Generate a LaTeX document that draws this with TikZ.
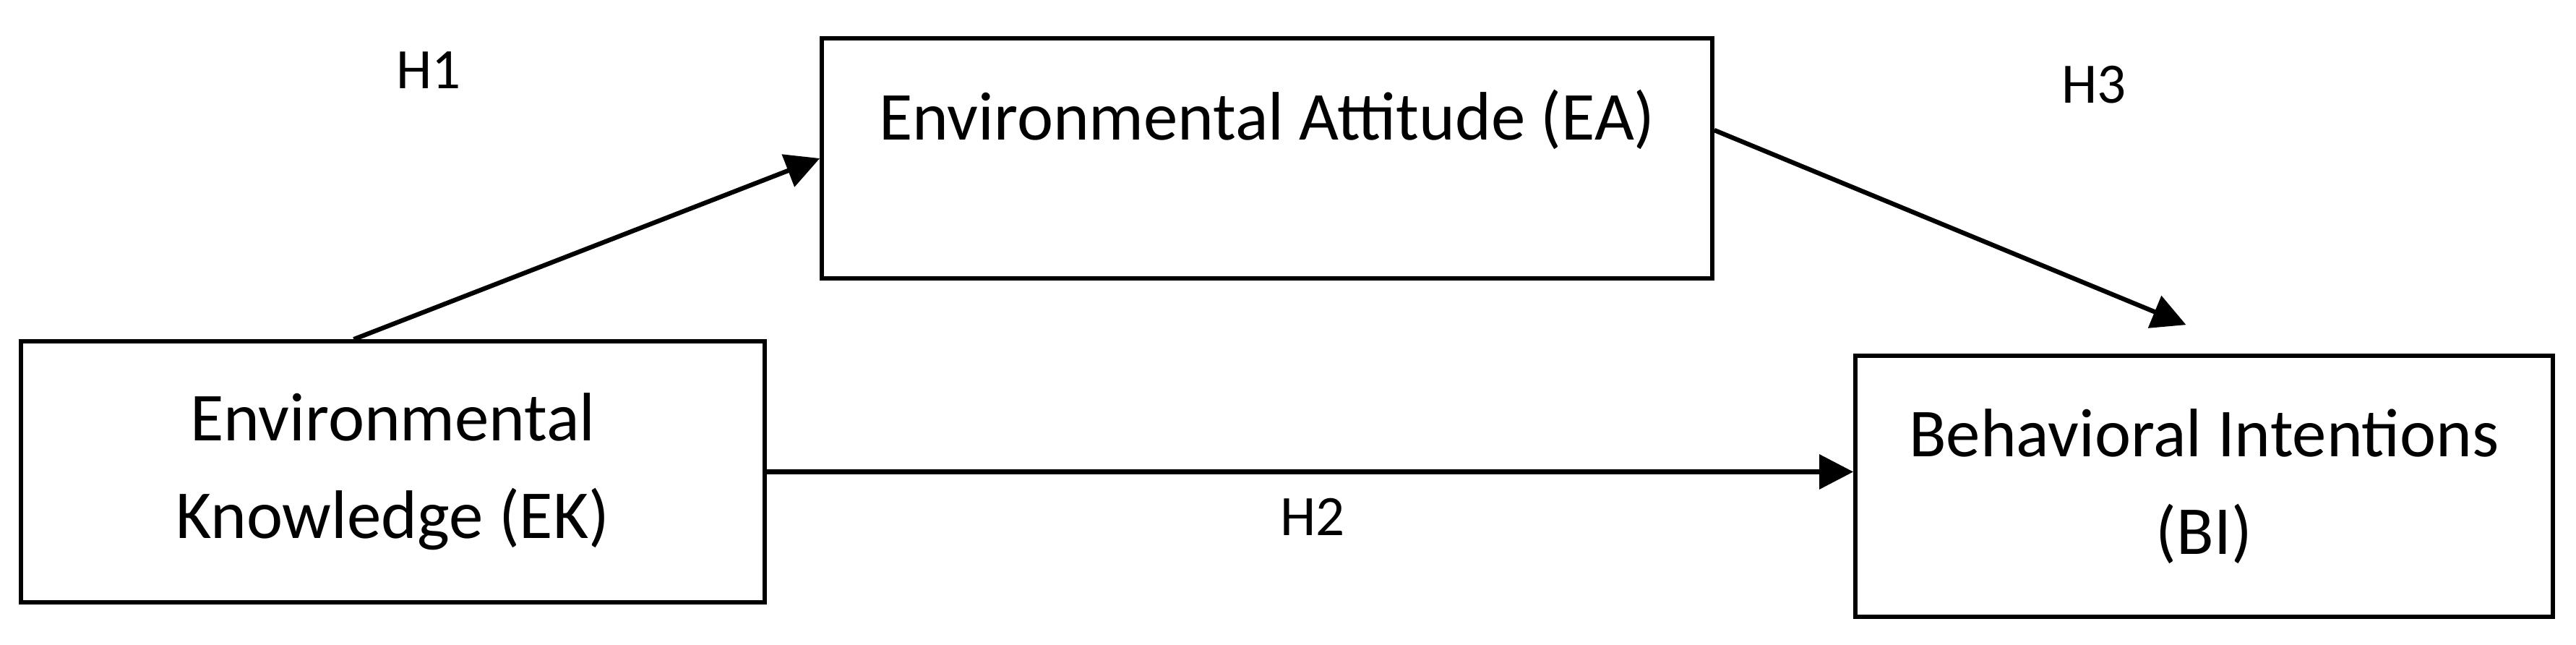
\documentclass[tikz,border=0pt]{standalone}
\usepackage{fontspec}
\setmainfont{Carlito}
\usepackage{tikz}
\usetikzlibrary{positioning,calc,arrows.meta}

\begin{document}
\begin{tikzpicture}[
    varbox/.style={draw, line width=1.6pt, rectangle, align=center, inner sep=0pt, font=\fontsize{27}{38.4}\selectfont},
    hyp/.style={inner sep=0pt, font=\fontsize{22.5}{27}\selectfont},
    link/.style={line width=1.8pt, -{Triangle[length=0.47cm, width=0.47cm]}}
]
    \useasboundingbox (0,0) rectangle (35.64,-8.91);
    % Constructs
    \node [varbox, minimum width=10.29cm, minimum height=3.61cm] (ek) at (5.435,-6.525) {Environmental\\Knowledge (EK)};
    \node [varbox, minimum width=12.32cm, minimum height=3.32cm, text height=0.6cm, text depth=1.12cm] (ea) at (17.53,-2.19) {Environmental Attitude (EA)};
    \node [varbox, minimum width=9.65cm, minimum height=3.61cm] (bi) at (30.495,-6.725) {Behavioral Intentions\\(BI)};
    % Paths
    \draw [link] ([xshift=-0.54cm]ek.north) -- (ea.west);
    \draw [link] (ek.east) -- (ek.east -| bi.west);
    \draw [link] ([yshift=0.39cm]ea.east) -- ([xshift=-0.25cm, yshift=0.4cm]bi.north);
    % Hypotheses
    \node [hyp] (h1) at (5.93,-0.97) {H1};
    \node [hyp] (h2) at (18.16,-7.15) {H2};
    \node [hyp] (h3) at (28.97,-1.17) {H3};
\end{tikzpicture}
\end{document}
